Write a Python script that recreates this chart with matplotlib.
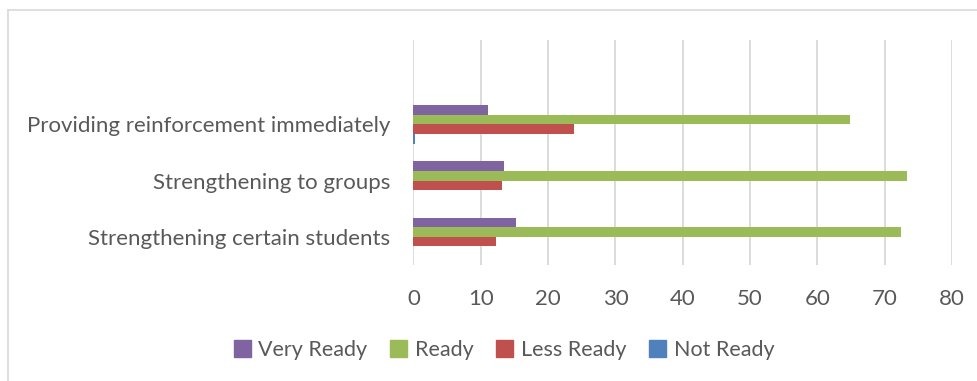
import numpy as np
import matplotlib.pyplot as plt
from matplotlib.lines import Line2D

# survey results (percent), bottom category first
categories = ["Strengthening certain students", "Strengthening to groups",
              "Providing reinforcement immediately", ""]
very_ready = [15.3, 13.5, 11.0, 0]
ready = [72.4, 73.3, 64.8, 0]
less_ready = [12.3, 13.2, 23.9, 0]
not_ready = [0, 0, 0.2, 0]

series = [("Not Ready", not_ready, "#4F81BD"),
          ("Less Ready", less_ready, "#C0504D"),
          ("Ready", ready, "#9BBB59"),
          ("Very Ready", very_ready, "#8064A2")]

plt.rcParams['font.family'] = ['Lato', 'DejaVu Sans']
txt = "#595959"

fig = plt.figure(figsize=(9.78, 3.81), dpi=100)
ax = fig.add_axes([413.5 / 978, 1 - 265 / 381, (952 - 413.5) / 978, 225 / 381])

y = np.arange(len(categories))
h = 0.171
for i, (name, vals, col) in enumerate(series):
    ax.barh(y + (i - 1.5) * h, vals, height=h, color=col, label=name, zorder=3)

ax.set_xlim(0, 80)
ax.set_ylim(-0.5, len(categories) - 0.5)
ax.set_xticks(range(0, 81, 10))
ax.set_yticks(y[:3])
ax.set_yticklabels(categories[:3])
ax.grid(axis='x', color='#D9D9D9', linewidth=1.3, zorder=0)
for s in ax.spines.values():
    s.set_visible(False)
ax.tick_params(length=0, labelsize=16, colors=txt)
ax.tick_params(axis='x', pad=17)
ax.tick_params(axis='y', pad=17)

handles = [plt.Rectangle((0, 0), 1, 1, color=c) for _, _, c in series[::-1]]
labels = [n for n, _, _ in series[::-1]]
fig.legend(handles, labels, loc='center', bbox_to_anchor=(504 / 978, 1 - 350 / 381),
           ncol=4, frameon=False, fontsize=15.5, labelcolor=txt,
           handlelength=0.8, handleheight=0.8, handletextpad=0.35,
           columnspacing=1.05)

# light outer frame
fig.add_artist(Line2D([8 / 978, 8 / 978], [0, 1 - 10 / 381], color='#D9D9D9', lw=1.2))
fig.add_artist(Line2D([8 / 978, 1], [1 - 10 / 381, 1 - 10 / 381], color='#D9D9D9', lw=1.2))

fig.savefig("out.png", dpi=100)
